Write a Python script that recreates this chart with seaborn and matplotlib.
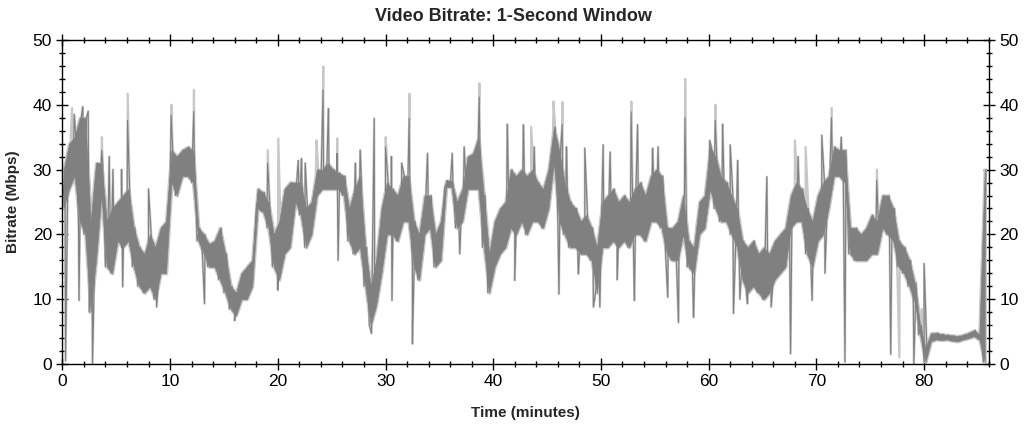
import numpy as np
import pandas as pd
import matplotlib
matplotlib.use('Agg')
import matplotlib.pyplot as plt
import seaborn as sns
from matplotlib.ticker import MultipleLocator

# bitrate band, one (low, high) pair per half minute
slot_start = np.arange(0, 86, 0.5)
band_low = [
    24, 27, 29, 22, 20, 8, 16, 26, 15, 14,
    19, 18, 19, 15, 12, 11, 12, 10, 14, 14,
    28, 26, 29, 29, 28, 19, 17, 15, 15, 13,
    11, 8.5, 7.5, 10, 10, 12, 24, 23.5, 21, 15,
    13, 17, 18, 25, 23, 18, 20, 26, 27, 27,
    27, 27, 26, 19, 17, 18, 12, 6, 9, 14,
    20, 20, 19, 22, 22, 15, 13, 20, 21, 15,
    16, 27.3, 27.3, 21, 22, 27, 27, 27, 18, 11,
    15, 17, 18, 21, 20, 22, 20, 22, 22, 21,
    24, 31, 22, 20, 18, 18, 17, 17, 16, 11,
    18, 18, 19, 18, 19, 18, 20, 20, 19, 22,
    22, 21, 17, 16, 16, 20, 15, 14, 20, 21,
    27, 24, 22, 22, 20, 18, 13, 11, 12, 11,
    10, 11, 13, 14, 15, 21, 22, 22, 17, 15,
    19, 20, 24, 29, 29, 28, 17, 16, 16, 16,
    17, 17, 21, 20, 19, 15, 14, 12, 9.5, 4.5,
    0.3, 3.5, 3.8, 3.7, 3.8, 3.6, 3.5, 3.8, 4.0, 4.3, 3.8, 0.3,
]
band_high = [
    30, 34, 35, 38, 38, 22, 31, 31, 22, 24,
    25, 26, 27, 21, 18, 17, 20, 18, 21, 22,
    33, 32, 33, 33.5, 33, 21, 20, 18.5, 19, 21,
    17, 12, 11, 14, 15, 16, 27, 26.5, 25, 20,
    22, 27, 28, 28, 28, 24, 25, 30, 30, 31,
    30, 29.5, 29, 24, 27, 29, 18, 12, 16, 24,
    28, 27, 26, 29, 29, 22, 20, 26, 26, 20,
    22, 28.3, 28.3, 25, 27, 32, 32.5, 35, 26, 17,
    22, 24, 25, 30, 29, 30, 29, 30, 28, 27,
    30, 36.6, 33, 28, 25, 24, 22, 23, 21, 18,
    25, 26, 27, 25, 26, 25, 27, 28, 26, 29,
    30, 29, 21, 21, 22, 26, 19, 18, 25, 26,
    33.5, 32, 29, 28, 26, 24, 19, 18, 19, 17,
    18, 17, 19, 20, 21, 26, 28, 27, 24, 22,
    26, 28, 29, 33.5, 33, 33, 21, 21, 20, 21,
    23, 22, 26, 26, 24, 19, 18, 16, 12.5, 6,
    2.5, 4.7, 4.8, 4.6, 4.5, 4.4, 4.3, 4.5, 4.8, 5.2, 4.6, 30,
]

# single-second spikes and drops (minutes, Mbps)
spike_time = [0.3, 1.1, 1.55, 1.9, 2.4, 2.8, 3.65, 4.35, 4.7, 5.5,
              5.6, 6.05, 8.0, 8.75, 10.1, 12.2, 13.2, 16.0, 19.05, 20.0,
              21.9, 22.2, 22.55, 24.2, 24.7, 25.5, 25.6, 27.2, 27.65, 28.7,
              28.95, 30.0, 30.55, 30.6, 31.5, 32.2, 32.5, 33.9, 36.2, 36.9,
              37.3, 38.7, 41.3, 42.0, 42.8, 43.8, 46.1, 46.4, 46.8, 47.9,
              48.5, 49.3, 49.9, 50.2, 50.85, 51.5, 52.8, 53.1, 53.4, 54.8,
              55.3, 56.2, 57.2, 57.8, 58.6, 60.1, 60.6, 61.3, 62.0, 62.3,
              62.7, 62.9, 63.6, 65.4, 65.8, 67.6, 68.3, 69.6, 70.5, 70.8,
              71.4, 72.3, 72.65, 75.6, 76.9, 79.05, 80.0]
spike_rate = [0.5, 38.5, 9.8, 39.7, 39, 0.0, 33, 32, 30, 30,
              11.9, 37.6, 27, 8.8, 38.4, 39, 9.3, 6.7, 31, 11.4,
              31.4, 31.7, 31, 42.3, 39.4, 32.5, 16, 31, 33, 4.7,
              37.9, 33.5, 32, 9.8, 31, 37.9, 3.1, 32.5, 32.5, 17,
              33.5, 41.2, 37, 12.9, 36.9, 33.5, 10.8, 37, 33.5, 13.9,
              33.3, 8.8, 8.8, 33.8, 32.7, 13, 38.9, 9.8, 36.9, 33.3,
              33.5, 10.3, 6.4, 38, 7.2, 34.5, 37.6, 37, 33.8, 7.8,
              31.4, 10, 9.3, 28.9, 8.8, 1.6, 32, 9.8, 35.3, 14,
              38, 35, 0.3, 28.4, 1.5, 0.0, 15.5]

# peaks only seen in the light grey trace
peak_time = [0.9, 3.67, 6.07, 10.12, 12.22, 19.07, 20.05, 23.6, 24.22, 25.52,
             30.02, 32.22, 38.72, 43.52, 45.6, 46.42, 52.82, 57.82, 60.62, 68.0,
             69.0, 71.42, 75.62, 77.7, 79.5, 79.8]
peak_rate = [39.5, 35, 41.7, 40, 42.3, 33, 34.8, 34.5, 45.9, 34.8,
             35, 41.7, 43.3, 36.6, 40.5, 40.4, 40.5, 44, 40, 34.5,
             33.5, 39.5, 30, 1.0, 8.8, 8.5]

GRIS_OSC = '#808080'
GRIS_CLARO = '#c8c8c8'


def trazo(extra_t, extra_v):
    """Zigzag low/high per slot and merge the extra points in time order"""
    t = np.concatenate([slot_start, slot_start + 0.25, extra_t])
    v = np.concatenate([band_low, band_high, extra_v])
    df = pd.DataFrame({'t': t, 'v': v})
    return df.sort_values('t', kind='stable').reset_index(drop=True)


dark = trazo(spike_time, spike_rate)
light = trazo(spike_time + peak_time, spike_rate + peak_rate)
centro = slot_start + 0.125

sns.set_style('ticks')
plt.rcParams['font.family'] = ['Liberation Sans', 'DejaVu Sans']

fig = plt.figure(figsize=(10.32, 4.25), dpi=100)
ax = fig.add_axes([0.0604, 0.1435, 0.8977, 0.7625])

# light trace: halo round the band plus its own peaks
ax.fill_between(centro, band_low, band_high, color=GRIS_CLARO,
                linewidth=2.4, edgecolor=GRIS_CLARO, zorder=1)
sns.lineplot(data=light, x='t', y='v', sort=False, estimator=None,
             color=GRIS_CLARO, linewidth=1.6, ax=ax, zorder=1.5)
# dark trace on top
ax.fill_between(centro, band_low, band_high, color=GRIS_OSC, linewidth=0.4,
                edgecolor=GRIS_OSC, zorder=2)
sns.lineplot(data=dark, x='t', y='v', sort=False, estimator=None,
             color=GRIS_OSC, linewidth=0.8, ax=ax, zorder=2.5)

ax.set_xlim(0, 86)
ax.set_ylim(0, 50)
ax.xaxis.set_major_locator(MultipleLocator(10))
ax.xaxis.set_minor_locator(MultipleLocator(2))
ax.yaxis.set_major_locator(MultipleLocator(10))
ax.yaxis.set_minor_locator(MultipleLocator(2))
ax.tick_params(which='both', direction='inout', top=True, right=True,
               labelright=True, colors='black', labelsize=12.5, width=1)
ax.tick_params(which='major', length=9, pad=3)
ax.tick_params(which='minor', length=5)
for s in ax.spines.values():
    s.set_visible(True)
    s.set_color('black')
    s.set_linewidth(1)

ax.set_xlabel('Time (minutes)', fontsize=11, fontweight='bold', labelpad=12)
ax.set_ylabel('Bitrate (Mbps)', fontsize=11, fontweight='bold', labelpad=9)
fig.text(0.498, 0.962, 'Video Bitrate: 1-Second Window', ha='center', va='center',
         fontsize=13, fontweight='bold')

fig.savefig('out.png', dpi=100)
